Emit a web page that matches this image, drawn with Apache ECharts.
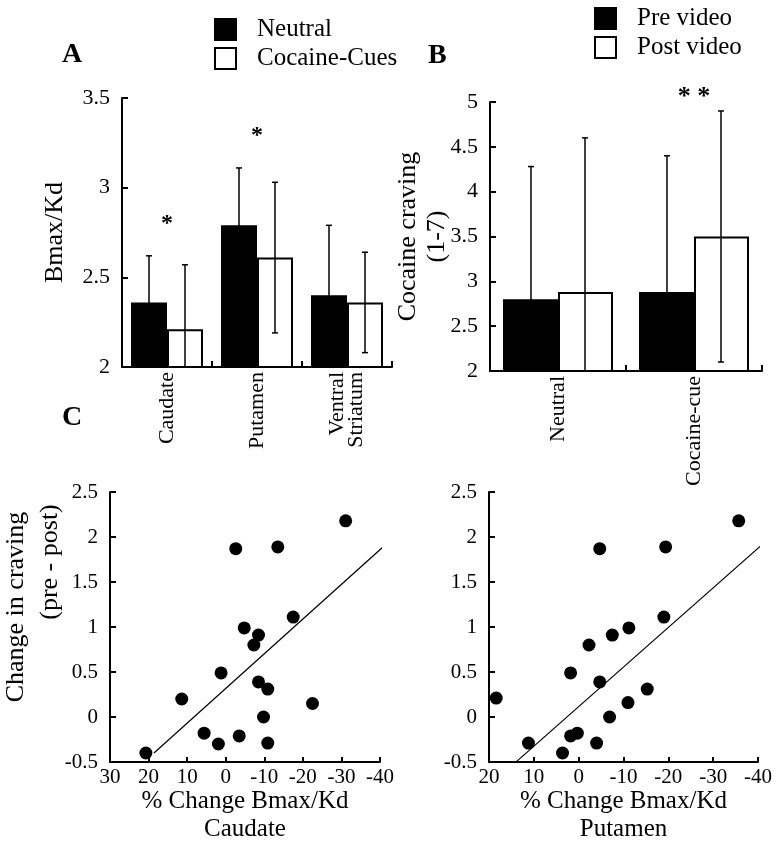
<!DOCTYPE html>
<html>
<head>
<meta charset="utf-8">
<script src="https://cdn.jsdelivr.net/npm/echarts@6/dist/echarts.min.js"></script>
<style>
html, body { margin: 0; padding: 0; background: #fff; }
#main { width: 778px; height: 853px; }
</style>
</head>
<body>
<div id="main"></div>
<script>
// panel A: D2 receptor binding by region
var regions = ['Caudate', 'Putamen', 'Ventral\nStriatum'];
var neutralMean = [2.36, 2.79, 2.40];
var neutralSd = [0.26, 0.32, 0.39];
var cuesMean = [2.21, 2.61, 2.36];
var cuesSd = [0.36, 0.42, 0.28];
var starsA = [[0, 2.80, '*'], [1, 3.29, '*']];

// panel B: craving ratings
var conditions = ['Neutral', 'Cocaine-cue'];
var preMean = [2.80, 2.88];
var preSd = [1.48, 1.52];
var postMean = [2.88, 3.50];
var postSd = [1.72, 1.40];
var starsB = [[1, 5.05, '* *']];

// panel C: % change Bmax/Kd vs change in craving
var caudatePts = [
    [20.7, -0.40], [11.4, 0.20], [5.6, -0.18], [1.9, -0.30], [1.2, 0.49],
    [-2.6, 1.87], [-3.5, -0.21], [-4.8, 0.99], [-7.3, 0.80], [-8.5, 0.91],
    [-8.5, 0.39], [-9.8, 0.00], [-10.9, 0.31], [-10.9, -0.29], [-13.5, 1.89],
    [-17.5, 1.11], [-22.5, 0.15], [-31.1, 2.18]
];
var caudateFit = [[18.6, -0.40], [-43.9, 2.01]];
var putamenPts = [
    [18.4, 0.21], [11.2, -0.29], [3.6, -0.40], [1.8, 0.49], [1.8, -0.21],
    [0.3, -0.18], [-2.3, 0.80], [-4.0, -0.29], [-4.7, 1.87], [-4.7, 0.39],
    [-6.9, 0.00], [-7.5, 0.91], [-11.0, 0.16], [-11.2, 0.99], [-15.3, 0.31],
    [-19.0, 1.11], [-19.4, 1.89], [-35.7, 2.18]
];
var putamenFit = [[14.2, -0.51], [-44.2, 2.06]];

var serif = '"Liberation Serif", "DejaVu Serif", serif';
var ink = '#000';

var myChart = echarts.init(document.getElementById('main'), null, { renderer: 'canvas' });

function pack(means, sds) {
    return means.map(function (m, i) { return [i, m, sds[i]]; });
}

// error bars drawn through the axes, shifted onto the bar they belong to
function errorBars(data, axisIdx, offset, floor) {
    return {
        type: 'custom',
        xAxisIndex: axisIdx,
        yAxisIndex: axisIdx,
        data: data,
        z: 5,
        silent: true,
        renderItem: function (params, api) {
            var c = api.value(0), m = api.value(1), s = api.value(2);
            var top = api.coord([c, m + s]);
            var low = m - s;
            var bot = api.coord([c, Math.max(low, floor)]);
            var x = top[0] + offset;
            var st = { stroke: ink, lineWidth: 1.5 };
            var kids = [
                { type: 'line', shape: { x1: x, y1: top[1], x2: x, y2: bot[1] }, style: st },
                { type: 'line', shape: { x1: x - 3, y1: top[1], x2: x + 3, y2: top[1] }, style: st }
            ];
            if (low > floor) {
                kids.push({ type: 'line', shape: { x1: x - 3, y1: bot[1], x2: x + 3, y2: bot[1] }, style: st });
            }
            return { type: 'group', children: kids };
        }
    };
}

function starSeries(data, axisIdx, size) {
    return {
        type: 'custom',
        xAxisIndex: axisIdx,
        yAxisIndex: axisIdx,
        data: data,
        silent: true,
        renderItem: function (params, api) {
            var p = api.coord([api.value(0), api.value(1)]);
            return {
                type: 'text',
                x: p[0], y: p[1],
                style: {
                    text: data[params.dataIndex][2],
                    font: 'bold ' + size + 'px ' + serif,
                    fill: ink, align: 'center', verticalAlign: 'middle'
                }
            };
        }
    };
}

var axisLine = { show: true, onZero: false, lineStyle: { color: ink, width: 2 } };
var tickIn = { show: true, inside: true, length: 6, lineStyle: { color: ink, width: 2 } };

function valueY(gi, min, max, name, gap, fs) {
    return {
        type: 'value', gridIndex: gi, min: min, max: max, interval: 0.5,
        axisLine: axisLine, axisTick: tickIn, splitLine: { show: false },
        axisLabel: { color: ink, fontFamily: serif, fontSize: fs, margin: 12 },
        name: name, nameLocation: 'middle', nameGap: gap, nameMoveOverlap: false,
        nameTextStyle: { color: ink, fontFamily: serif, fontSize: 26, lineHeight: 29 }
    };
}

function catX(gi, data) {
    return {
        type: 'category', gridIndex: gi, data: data,
        axisLine: axisLine, axisTick: tickIn,
        axisLabel: { color: ink, fontFamily: serif, fontSize: 22, rotate: 90, margin: 5, lineHeight: 19 }
    };
}

function valueX(gi, min, max, name) {
    return {
        type: 'value', gridIndex: gi, min: min, max: max, interval: 10, inverse: true,
        axisLine: axisLine, axisTick: { show: true, inside: true, length: 5, lineStyle: { color: ink, width: 2 } },
        splitLine: { show: false },
        axisLabel: { color: ink, fontFamily: serif, fontSize: 21, margin: 5 },
        name: name, nameLocation: 'middle', nameGap: 25, nameMoveOverlap: false,
        nameTextStyle: { color: ink, fontFamily: serif, fontSize: 25, lineHeight: 28 }
    };
}

var legendText = { color: ink, fontFamily: serif, fontSize: 25, padding: [4, 0, 0, 16] };

var option = {
    backgroundColor: '#fff',
    animation: false,
    legend: [
        {
            data: ['Neutral', 'Cocaine-Cues'], orient: 'vertical', left: 209, top: 12,
            icon: 'rect', itemWidth: 21, itemHeight: 21, itemGap: 4,
            textStyle: legendText, selectedMode: false
        },
        {
            data: ['Pre video', 'Post video'], orient: 'vertical', left: 589, top: 1,
            icon: 'rect', itemWidth: 21, itemHeight: 21, itemGap: 4,
            textStyle: legendText, selectedMode: false
        }
    ],
    grid: [
        { left: 122, top: 98, width: 270, height: 269, outerBoundsMode: 'none' },
        { left: 490, top: 102, width: 272, height: 269, outerBoundsMode: 'none' },
        { left: 110, top: 492, width: 270, height: 270, outerBoundsMode: 'none' },
        { left: 489, top: 492, width: 269, height: 270, outerBoundsMode: 'none' }
    ],
    xAxis: [
        catX(0, regions),
        catX(1, conditions),
        valueX(2, -40, 30, '% Change Bmax/Kd\nCaudate'),
        valueX(3, -40, 20, '% Change Bmax/Kd\nPutamen')
    ],
    yAxis: [
        valueY(0, 2, 3.5, 'Bmax/Kd', 52, 22),
        valueY(1, 2, 5, 'Cocaine craving\n(1-7)', 38, 22),
        valueY(2, -0.5, 2.5, '', 0, 21),
        valueY(3, -0.5, 2.5, '', 0, 21)
    ],
    graphic: [
        { type: 'text', left: 62, top: 41, style: { text: 'A', font: 'bold 28px ' + serif, fill: ink } },
        { type: 'text', left: 428, top: 42, style: { text: 'B', font: 'bold 28px ' + serif, fill: ink } },
        { type: 'text', left: 62, top: 404, style: { text: 'C', font: 'bold 28px ' + serif, fill: ink } },
        {
            type: 'text', x: 16, y: 607, rotation: Math.PI / 2,
            style: { text: 'Change in craving', font: '26px ' + serif, fill: ink, align: 'center', verticalAlign: 'middle' }
        },
        {
            type: 'text', x: 50, y: 562, rotation: Math.PI / 2,
            style: { text: '(pre - post)', font: '26px ' + serif, fill: ink, align: 'center', verticalAlign: 'middle' }
        }
    ],
    series: [
        {
            name: 'Neutral', type: 'bar', xAxisIndex: 0, yAxisIndex: 0,
            barWidth: 36, barGap: '0%', data: neutralMean,
            itemStyle: { color: ink, borderColor: ink, borderWidth: 1.5 }
        },
        {
            name: 'Cocaine-Cues', type: 'bar', xAxisIndex: 0, yAxisIndex: 0,
            barWidth: 36, barGap: '0%', data: cuesMean,
            itemStyle: { color: '#fff', borderColor: ink, borderWidth: 2 }
        },
        errorBars(pack(neutralMean, neutralSd), 0, -18, 2),
        errorBars(pack(cuesMean, cuesSd), 0, 18, 2),
        starSeries(starsA, 0, 24),
        {
            name: 'Pre video', type: 'bar', xAxisIndex: 1, yAxisIndex: 1,
            barWidth: 55, barGap: '0%', data: preMean,
            itemStyle: { color: ink, borderColor: ink, borderWidth: 1.5 }
        },
        {
            name: 'Post video', type: 'bar', xAxisIndex: 1, yAxisIndex: 1,
            barWidth: 55, barGap: '0%', data: postMean,
            itemStyle: { color: '#fff', borderColor: ink, borderWidth: 2 }
        },
        errorBars(pack(preMean, preSd), 1, -27, 2),
        errorBars(pack(postMean, postSd), 1, 27, 2),
        starSeries(starsB, 1, 26),
        {
            type: 'scatter', xAxisIndex: 2, yAxisIndex: 2, data: caudatePts,
            symbolSize: 13, itemStyle: { color: ink, opacity: 1 }
        },
        {
            type: 'line', xAxisIndex: 2, yAxisIndex: 2, data: caudateFit, clip: false,
            symbol: 'none', lineStyle: { color: ink, width: 1.2 }
        },
        {
            type: 'scatter', xAxisIndex: 3, yAxisIndex: 3, data: putamenPts,
            symbolSize: 13, itemStyle: { color: ink, opacity: 1 }
        },
        {
            type: 'line', xAxisIndex: 3, yAxisIndex: 3, data: putamenFit, clip: false,
            symbol: 'none', lineStyle: { color: ink, width: 1.2 }
        }
    ]
};

myChart.setOption(option);
window.addEventListener('resize', myChart.resize);
</script>
</body>
</html>
